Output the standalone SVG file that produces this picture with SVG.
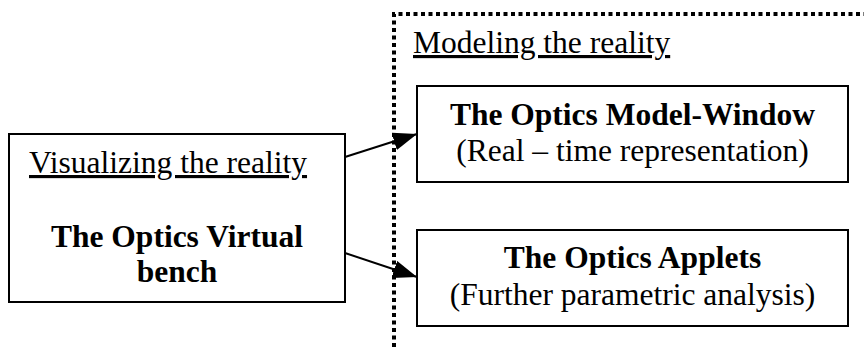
<svg xmlns="http://www.w3.org/2000/svg" width="864" height="347" viewBox="0 0 864 347">
  <style>
    .box { fill: #fff; stroke: #000; stroke-width: 2; }
    .t { font-family: "Liberation Serif", "Times New Roman", serif; font-size: 31.5px; fill: #000; }
    .b { font-weight: bold; }
    .u { text-decoration: underline; }
    .mid { text-anchor: middle; }
    .link { stroke: #000; stroke-width: 2; fill: none; marker-end: url(#head); }
    .frame { stroke: #000; stroke-width: 4; fill: none; stroke-dasharray: 4 3.5; }
  </style>
  <defs>
    <marker id="head" markerUnits="userSpaceOnUse" markerWidth="24" markerHeight="18" refX="24" refY="9" orient="auto">
      <path d="M0,0 L24,9 L0,18 z" fill="#000"/>
    </marker>
  </defs>
  <rect width="864" height="347" fill="#fff"/>

  <!-- modeling area frame (dotted) -->
  <g id="modeling-frame">
    <path class="frame" d="M394,347 V14 H864"/>
    <text class="t u" x="413" y="53">Modeling the reality</text>
  </g>

  <g id="virtual-bench">
    <rect class="box" x="9" y="134" width="336" height="168"/>
    <text class="t u" x="29" y="173">Visualizing the reality</text>
    <text class="t b mid" x="177" y="247">The Optics Virtual</text>
    <text class="t b mid" x="177" y="282">bench</text>
  </g>

  <g id="model-window">
    <rect class="box" x="417" y="86" width="431" height="96"/>
    <text class="t b mid" x="632.5" y="125">The Optics Model-Window</text>
    <text class="t mid" x="632.5" y="161">(Real – time representation)</text>
  </g>

  <g id="applets">
    <rect class="box" x="417" y="230" width="431" height="96"/>
    <text class="t b mid" x="632.5" y="268">The Optics Applets</text>
    <text class="t mid" x="632.5" y="305">(Further parametric analysis)</text>
  </g>

  <g id="connectors">
    <line class="link" x1="345" y1="157" x2="417" y2="134"/>
    <line class="link" x1="345" y1="253" x2="417" y2="277"/>
  </g>
</svg>
